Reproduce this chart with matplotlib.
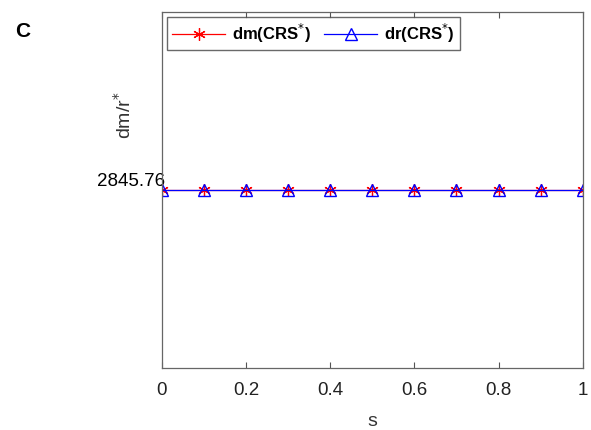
import numpy as np
import matplotlib.pyplot as plt

plt.rcParams['font.family'] = ['Liberation Sans', 'DejaVu Sans']

s = [0, 0.1, 0.2, 0.3, 0.4, 0.5, 0.6, 0.7, 0.8, 0.9, 1.0]
dm = [2845.76] * 11
dr = [2845.76] * 11
yticks = [2845.76]
ytick_labels = ['2845.76']

fig = plt.figure(figsize=(5.91, 4.30), dpi=100)
ax = fig.add_axes([0.274, 0.144, 0.712, 0.828])

ax.plot(s, dm, color='red', marker=(6, 2, 0), markersize=9, markeredgewidth=0.9,
        linewidth=0.9, label='dm(CRS$^{*}$)')
ax.plot(s, dr, color='blue', marker='^', markersize=9, markerfacecolor='none',
        markeredgewidth=1.0, linewidth=0.9, label='dr(CRS$^{*}$)')

ax.set_xlim(0, 1)
ax.set_ylim(2845.76 - 1, 2845.76 + 1)
ax.set_xticks([0, 0.2, 0.4, 0.6, 0.8, 1.0])
ax.set_xticklabels(['0', '0.2', '0.4', '0.6', '0.8', '1'])
ax.set_yticks(yticks)
ax.set_yticklabels(ytick_labels)
for lab in ax.get_yticklabels():
    lab.set_va('bottom')

ax.tick_params(axis='x', direction='in', length=4, top=True, labelsize=13.5,
               pad=10, color='#555555', labelcolor='#222222')
ax.tick_params(axis='y', direction='in', length=0, pad=-2, labelsize=13.5,
               labelcolor='black')
for sp in ax.spines.values():
    sp.set_color('#666666')
    sp.set_linewidth(0.9)

ax.set_xlabel('s', fontsize=14, color='#333333', labelpad=10)
ax.set_ylabel('dm/r$^{*}$', fontsize=14, color='#333333')
ax.yaxis.set_label_coords(-0.065, 0.71)

leg = ax.legend(loc='upper left', ncol=2, frameon=True,
                fancybox=False, edgecolor='#444444', borderaxespad=0.3,
                handlelength=3.2, columnspacing=0.8, handletextpad=0.4,
                borderpad=0.3, prop={'weight': 'bold', 'size': 12})
leg.get_frame().set_linewidth(1.0)

fig.text(0.025, 0.914, 'C', fontsize=15, fontweight='bold')

fig.savefig('out.png', dpi=100)
